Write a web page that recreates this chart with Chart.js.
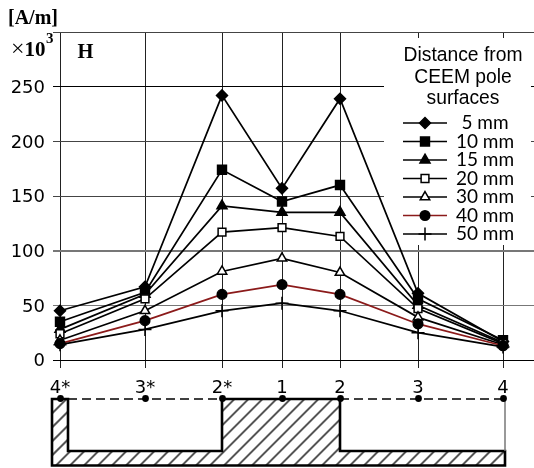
<!DOCTYPE html>
<html>
<head>
<meta charset="utf-8">
<title>H</title>
<script src="https://cdn.jsdelivr.net/npm/chart.js@4"></script>
<style>
  html, body { margin: 0; padding: 0; background: #fff; }
  canvas { display: block; }
</style>
</head>
<body>
<canvas id="myChart" width="534" height="468"></canvas>
<script>
// measuring points along the pole profile, spaced as in the drawing
const pointLabels = ['4*', '3*', '2*', '1', '2', '3', '4'];
const pointPos = [0, 85, 162, 222, 280, 358, 443];
const yTicks = [0, 50, 100, 150, 200, 250, 300];

const mm5 = [45, 67, 242, 157, 239, 61, 17];
const mm10 = [35, 62, 174, 145, 160, 56, 18];
const mm15 = [28, 60, 141, 135, 135, 50, 16];
const mm20 = [24, 56, 117, 121, 113, 47, 15];
const mm30 = [18, 45, 81, 93, 80, 39, 14];
const mm40 = [15, 36, 60, 69, 60, 33, 13];
const mm50 = [14, 28, 45, 52, 45, 25, 12];

const legendTitle = ['Distance from', 'CEEM pole', 'surfaces'];
const seriesNames = ['5 mm', '10 mm', '15 mm', '20 mm', '30 mm', '40 mm', '50 mm'];
const seriesValues = [mm5, mm10, mm15, mm20, mm30, mm40, mm50];
const markers = [
    { pointStyle: 'rectRot', radius: 5.5, fill: '#000' },
    { pointStyle: 'rect', radius: 6.3, fill: '#000' },
    { pointStyle: 'triangle', radius: 5.8, fill: '#000' },
    { pointStyle: 'rect', radius: 5.5, fill: '#fff' },
    { pointStyle: 'triangle', radius: 5.5, fill: '#fff' },
    { pointStyle: 'circle', radius: 4.8, fill: '#000' },
    { pointStyle: 'cross', radius: 6.5, fill: '#000' }
];
const lineColor = ['#000', '#000', '#000', '#000', '#000', '#8b1a1a', '#000'];

const SERIF = '"Liberation Serif", serif';

// white legend box sits over the grid but under the lines
const legendBack = {
    id: 'legendBack',
    beforeDatasetsDraw(chart) {
        chart.ctx.save();
        chart.ctx.fillStyle = '#fff';
        chart.ctx.fillRect(384, 38, 147, 207);
        chart.ctx.restore();
    }
};

// legend text with line + marker samples
const legendBox = {
    id: 'legendBox',
    afterDraw(chart) {
        const ctx = chart.ctx;
        ctx.save();
        ctx.fillStyle = '#000';
        ctx.textAlign = 'center';
        ctx.textBaseline = 'middle';
        ctx.font = '19.3px "Liberation Sans", sans-serif';
        legendTitle.forEach((t, i) => ctx.fillText(t, 463, 56 + i * 21.5));
        ctx.font = '19px Lato, sans-serif';
        seriesNames.forEach((name, i) => {
            const y = 123 + i * 18.5;
            ctx.strokeStyle = lineColor[i];
            ctx.lineWidth = 1.7;
            ctx.beginPath();
            ctx.moveTo(403, y);
            ctx.lineTo(447, y);
            ctx.stroke();
            ctx.fillStyle = markers[i].fill;
            ctx.strokeStyle = '#000';
            ctx.lineWidth = 1.5;
            Chart.helpers.drawPoint(ctx, {
                pointStyle: markers[i].pointStyle,
                radius: markers[i].radius,
                rotation: 0,
                borderWidth: 1.5
            }, 425, y);
            ctx.fillStyle = '#000';
            ctx.fillText(name, 485, y);
        });
        ctx.restore();
    }
};

// axis captions that sit in the corner
const captions = {
    id: 'captions',
    afterDraw(chart) {
        const ctx = chart.ctx;
        ctx.save();
        ctx.fillStyle = '#000';
        ctx.textBaseline = 'alphabetic';
        ctx.textAlign = 'left';
        ctx.font = 'bold 20px ' + SERIF;
        ctx.fillText('[A/m]', 8, 24);
        ctx.font = '24px ' + SERIF;
        ctx.fillText('\u00d7', 11, 56);
        ctx.font = 'bold 21px ' + SERIF;
        ctx.fillText('10', 24.5, 56);
        ctx.font = 'bold 15px ' + SERIF;
        ctx.fillText('3', 46, 43);
        ctx.font = 'bold 20.5px ' + SERIF;
        ctx.fillText('H', 77.5, 58);
        ctx.restore();
    }
};

// pole cross section under the x axis
const poleProfile = {
    id: 'poleProfile',
    afterDraw(chart) {
        const ctx = chart.ctx;
        const xs = pointPos.map(v => chart.scales.x.getPixelForValue(v));
        const top = 399, step = 451, bottom = 465.5;
        const left = 52, tooth = 68, right = 505;
        const poleL = xs[2], poleR = xs[4];

        const outline = () => {
            ctx.beginPath();
            ctx.moveTo(left, top);
            ctx.lineTo(tooth, top);
            ctx.lineTo(tooth, step);
            ctx.lineTo(poleL, step);
            ctx.lineTo(poleL, top);
            ctx.lineTo(poleR, top);
            ctx.lineTo(poleR, step);
            ctx.lineTo(right, step);
            ctx.lineTo(right, bottom);
            ctx.lineTo(left, bottom);
            ctx.closePath();
        };

        ctx.save();
        outline();
        ctx.clip();
        ctx.strokeStyle = '#555';
        ctx.lineWidth = 2;
        ctx.beginPath();
        for (let x = left - 80; x < right + 80; x += 14) {
            ctx.moveTo(x, bottom);
            ctx.lineTo(x + (bottom - top), top);
        }
        ctx.stroke();
        ctx.restore();

        ctx.save();
        ctx.strokeStyle = '#000';
        ctx.lineWidth = 2.6;
        outline();
        ctx.stroke();

        ctx.lineWidth = 1.5;
        ctx.setLineDash([9, 5]);
        ctx.beginPath();
        ctx.moveTo(tooth, top);
        ctx.lineTo(poleL, top);
        ctx.moveTo(poleR, top);
        ctx.lineTo(right, top);
        ctx.stroke();
        ctx.setLineDash([]);

        ctx.strokeStyle = '#777';
        ctx.beginPath();
        ctx.moveTo(right, top);
        ctx.lineTo(right, step);
        ctx.stroke();

        ctx.fillStyle = '#000';
        xs.forEach(x => {
            ctx.beginPath();
            ctx.arc(x + 0.5, top - 0.5, 3.4, 0, Math.PI * 2);
            ctx.fill();
        });
        ctx.restore();
    }
};

const datasets = seriesNames.map((name, i) => ({
    label: name,
    data: seriesValues[i].map((v, k) => ({ x: pointPos[k], y: v })),
    borderColor: lineColor[i],
    borderWidth: 1.7,
    tension: 0,
    pointStyle: markers[i].pointStyle,
    pointRadius: markers[i].radius,
    pointBackgroundColor: markers[i].fill,
    pointBorderColor: '#000',
    pointBorderWidth: 1.5,
    clip: false,
    order: seriesNames.length - i
}));

let ctx = document.getElementById('myChart');

new Chart(ctx, {
    type: 'line',
    data: { datasets: datasets },
    plugins: [legendBack, poleProfile, legendBox, captions],
    options: {
        responsive: false,
        animation: false,
        layout: { autoPadding: false, padding: { top: 32, left: 0, right: 0, bottom: 0 } },
        plugins: { legend: { display: false }, tooltip: { enabled: false } },
        scales: {
            x: {
                type: 'linear',
                min: 0,
                max: 474,
                afterBuildTicks: axis => { axis.ticks = pointPos.map(v => ({ value: v })); },
                afterFit: axis => {
                    axis.height = 108;
                    axis.paddingLeft = 0;
                    axis.paddingRight = 0;
                },
                border: { display: false },
                grid: { color: '#222', lineWidth: 1, tickLength: 8, drawTicks: true },
                ticks: {
                    autoSkip: false,
                    maxRotation: 0,
                    padding: 10,
                    color: '#000',
                    font: { family: '"DejaVu Sans"', size: 18 },
                    callback: value => pointLabels[pointPos.indexOf(value)]
                }
            },
            y: {
                min: 0,
                max: 300,
                afterBuildTicks: axis => { axis.ticks = yTicks.map(v => ({ value: v })); },
                afterFit: axis => { axis.width = 60; },
                border: { display: false },
                grid: {
                    color: c => (c.tick.value === 100 || c.tick.value === 50) ? '#777' : (c.tick.value === 0 || c.tick.value === 250 ? '#000' : '#444'),
                    lineWidth: c => c.tick.value === 100 ? 2 : 1,
                    tickLength: 7
                },
                ticks: {
                    padding: 8,
                    labelOffset: 1.5,
                    color: '#000',
                    font: { family: '"DejaVu Sans"', size: 18 },
                    callback: value => value === 300 ? '' : value
                }
            }
        }
    }
});
</script>
</body>
</html>
